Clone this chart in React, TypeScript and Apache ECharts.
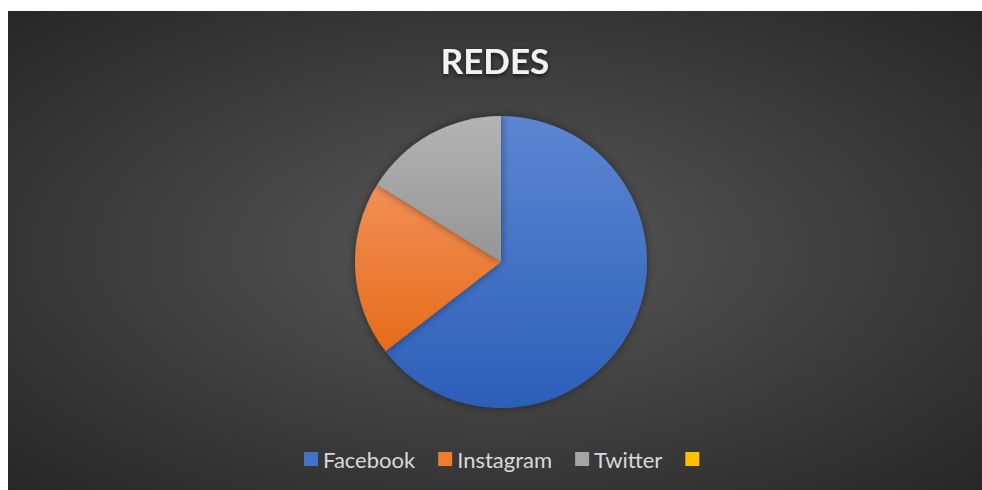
import React, { useEffect, useRef } from "react";
import * as echarts from "echarts";

const titleText = "REDES";
const categories = ["Facebook", "Instagram", "Twitter", " "];
const values = [40, 12, 10, 0];
const topColors = ["#5C86D1", "#F28F57", "#B3B3B3", "#FFC000"];
const bottomColors = ["#2C5FB9", "#E46C18", "#959595", "#FFC000"];
const legendColors = ["#4472C4", "#ED7D31", "#A5A5A5", "#FFC000"];

export default function App() {
  const ref = useRef<HTMLDivElement>(null);
  useEffect(() => {
    if (!ref.current) return;
    const chart = echarts.init(ref.current, undefined, { renderer: "svg" });
    const data = categories.map((name, i) => ({
      name,
      value: values[i],
      itemStyle: {
        color: {
          type: "linear",
          x: 0,
          y: 0,
          x2: 0,
          y2: 1,
          colorStops: [
            { offset: 0, color: topColors[i] },
            { offset: 1, color: bottomColors[i] },
          ],
        },
      },
    }));
    chart.setOption({
      animation: false,
      backgroundColor: {
        type: "radial",
        x: 0.5,
        y: 0.5,
        r: 0.72,
        colorStops: [
          { offset: 0, color: "#585858" },
          { offset: 1, color: "#262626" },
        ],
      },
      title: {
        text: titleText,
        left: "center",
        top: 26,
        textStyle: {
          fontFamily: "Lato",
          fontWeight: "bold",
          fontSize: 35,
          color: "#F2F2F2",
          textShadowColor: "rgba(0,0,0,0.6)",
          textShadowBlur: 4,
          textShadowOffsetY: 2,
        },
      },
      legend: {
        data: categories.map((name, i) => ({
          name,
          itemStyle: { color: legendColors[i] },
        })),
        bottom: 15,
        left: 291,
        icon: "rect",
        itemWidth: 14,
        itemHeight: 14,
        itemGap: 23,
        selectedMode: false,
        textStyle: {
          fontFamily: "Lato",
          fontSize: 22,
          color: "#D9D9D9",
        },
      },
      series: [
        {
          type: "pie",
          center: [493, 251],
          radius: 146,
          startAngle: 90,
          clockwise: true,
          label: { show: false },
          labelLine: { show: false },
          emphasis: { disabled: true },
          itemStyle: {
            borderWidth: 0,
            shadowBlur: 8,
            shadowColor: "rgba(0,0,0,0.45)",
          },
          data,
        },
      ],
    });
    return () => chart.dispose();
  }, []);
  return (
    <div
      ref={ref}
      style={{ position: "absolute", left: 8, top: 11, width: 974, height: 479 }}
    />
  );
}
